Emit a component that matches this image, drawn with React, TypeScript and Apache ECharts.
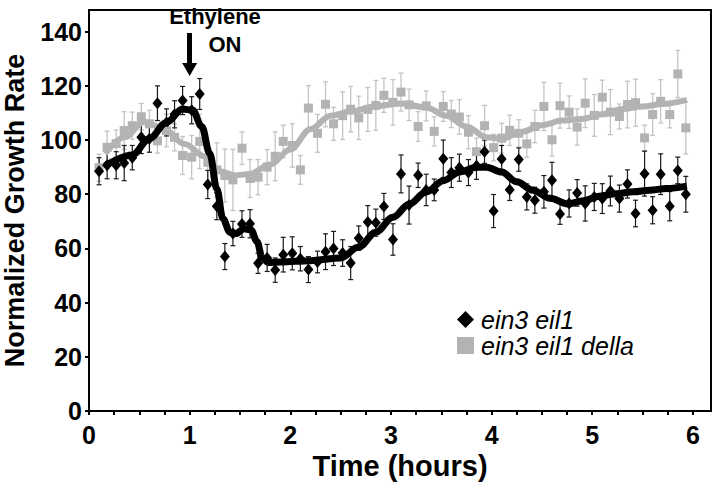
import React, { useEffect, useRef } from "react";
import * as echarts from "echarts";

const FONT = "'Liberation Sans', Arial, Helvetica, sans-serif";

// Sampling times (hours)
const times = [
  0.10, 0.18, 0.27, 0.35, 0.43, 0.52, 0.60, 0.68, 0.77, 0.85,
  0.93, 1.02, 1.10, 1.18, 1.27, 1.35, 1.43, 1.52, 1.60, 1.68,
  1.77, 1.85, 1.93, 2.02, 2.10, 2.18, 2.27, 2.35, 2.43, 2.52,
  2.60, 2.68, 2.77, 2.85, 2.93, 3.02, 3.10, 3.18, 3.27, 3.35,
  3.43, 3.52, 3.60, 3.68, 3.77, 3.85, 3.93, 4.02, 4.10, 4.18,
  4.27, 4.35, 4.43, 4.52, 4.60, 4.68, 4.77, 4.85, 4.93, 5.02,
  5.10, 5.18, 5.27, 5.35, 5.43, 5.52, 5.60, 5.68, 5.77, 5.85,
  5.93,
];

// ein3 eil1 (black diamonds)
const blackValues = [
  88.5, 90.7, 90.7, 91.5, 93.5, 101, 100.5, 113.6, 106.5, 109.5,
  114.6, 111, 117, 83.6, 75.6, 57, 65.5, 69, 69.1, 54.5,
  56.5, 52, 57.7, 58.2, 56.2, 52.2, 55, 58.8, 60, 58.3,
  54.6, 63.8, 69.8, 69.5, 75.5, 63.3, 87.5, 76, 87, 81.6,
  81.6, 93.1, 88, 89.8, 88, 90.5, 95.7, 73.8, 93, 81.7,
  92.8, 79, 77.8, 80.9, 85.2, 72.7, 76.6, 80.5, 76.6, 79,
  78.4, 81.2, 78.4, 83.8, 72.9, 87.6, 74.1, 87.4, 75.6, 88.8,
  80,
];
const blackErrors = [
  5, 5, 5, 6.5, 4.5, 6, 5, 6.4, 5, 5,
  5.2, 5, 5.7, 5.2, 5, 4.8, 4.5, 4.9, 5.2, 3.7,
  5, 4.5, 6.4, 6.1, 4.5, 4.8, 4, 6.6, 6.3, 4.9,
  6.1, 4.5, 6, 5, 4.8, 5.8, 7, 7, 4.5, 5.8,
  4, 6.9, 5.5, 5, 4.8, 5, 4.3, 6.1, 5, 4,
  4.3, 4.8, 4.8, 6, 6.6, 3.8, 5, 4.9, 6.5, 5,
  5.5, 5.5, 5, 5.2, 4.9, 8.3, 5, 7.5, 5.4, 4.9,
  6.6,
];

// ein3 eil1 della (grey squares)
const grayValues = [
  89.8, 97.3, 98.7, 103.5, 105.3, 108.6, 106, 99.7, 103.5, 101,
  94.3, 93.7, 99.5, 91.8, 89, 86.9, 85.3, 97, 85.8, 86.3,
  90, 94, 99.5, 98, 89, 111.8, 102.5, 113.2, 106, 109,
  111.4, 108.2, 111.3, 112.8, 116.5, 113.9, 117.7, 113, 105, 112.6,
  103.2, 112.4, 109.6, 108.5, 102.9, 95.7, 105.3, 97.2, 100.7, 103.6,
  102.5, 98.6, 105, 112.4, 100.1, 112.7, 110.3, 104.8, 113.6, 109.1,
  115.8, 110.3, 108.7, 113.1, 113.8, 100.8, 109.4, 114.3, 109.4, 124.4,
  104.5,
];
const grayErrors = [
  5, 6, 5, 7, 5, 4.9, 5, 4.5, 6, 5,
  7, 8, 10, 7, 10, 9.8, 11.3, 6, 7, 6.5,
  6.5, 9, 6, 8, 5.3, 8.3, 7, 8.3, 6.1, 8.8,
  8.4, 8, 8.1, 9.2, 6.3, 8.4, 7, 5.8, 5.5, 5.5,
  5.4, 5.5, 5, 6.4, 6.1, 5, 7.5, 4.9, 5.5, 5.6,
  5, 5, 6, 8.9, 6, 8.3, 6, 6.7, 9, 7.7,
  6.3, 8.3, 4.6, 8.6, 8.7, 4.7, 7.7, 8, 4.9, 8.7,
  9.6,
];

// Fitted curves
const blackFitX = [
  0.16, 0.43, 0.6, 0.77, 0.93, 1.03, 1.12, 1.2, 1.27, 1.33,
  1.4, 1.46, 1.54, 1.61, 1.67, 1.72, 1.78, 1.9, 2.2, 2.5,
  2.68, 2.85, 3.02, 3.18, 3.35, 3.52, 3.68, 3.85, 3.95, 4.1,
  4.25, 4.41, 4.58, 4.76, 4.91, 5.07, 5.24, 5.41, 5.57, 5.74,
  5.94,
];
const blackFitY = [
  90.5, 94.5, 100.5, 106.5, 111.5, 111, 105, 95, 82, 71,
  66, 65.5, 67.3, 66.8, 62.5, 56.5, 54.8, 55, 55.5, 56.5,
  60.5, 66, 71.5, 76.3, 80.8, 85, 88.2, 90, 90, 88.2,
  84.6, 81.5, 78.5, 76.4, 77.6, 79.3, 80.2, 80.9, 81.5, 82.1,
  83,
];
const grayFitX = [
  0.16, 0.35, 0.55, 0.75, 0.95, 1.15, 1.3, 1.45, 1.6, 1.8,
  2.0, 2.2, 2.4, 2.6, 2.85, 3.1, 3.35, 3.55, 3.75, 3.95,
  4.1, 4.3, 4.5, 4.7, 4.9, 5.1, 5.3, 5.5, 5.7, 5.94,
];
const grayFitY = [
  95, 101, 106.8, 104, 98.5, 94, 88.5, 87, 87.5, 91,
  96.5, 104, 109, 110.5, 112.5, 113.5, 112, 109, 105, 101,
  100.5, 103, 105.5, 107.2, 107.8, 109.5, 111.5, 112.4, 113.3, 114.8,
];

// Ethylene arrow (time, top value, bottom value)
const arrowTime = 1.0;
const arrowTop = 139.5;
const arrowBottom = 126;

const BLACK = "#000000";
const GRAY = "#b3b3b3";
const GRAY_ERR = "#c4c4c4";

function errorSeries(name: string, vals: number[], errs: number[], color: string, width: number) {
  return {
    name,
    type: "custom",
    silent: true,
    renderItem: (_params: any, api: any) => {
      const x = api.value(0);
      const y = api.value(1);
      const e = api.value(2);
      const top = api.coord([x, y + e]);
      const bot = api.coord([x, y - e]);
      const cw = 2.5;
      const st = { stroke: color, lineWidth: width };
      return {
        type: "group",
        children: [
          { type: "line", shape: { x1: top[0], y1: top[1], x2: bot[0], y2: bot[1] }, style: st },
          { type: "line", shape: { x1: top[0] - cw, y1: top[1], x2: top[0] + cw, y2: top[1] }, style: st },
          { type: "line", shape: { x1: bot[0] - cw, y1: bot[1], x2: bot[0] + cw, y2: bot[1] }, style: st },
        ],
      };
    },
    encode: { x: 0, y: 1 },
    data: times.map((t, i) => [t, vals[i], errs[i]]),
  };
}

export default function App() {
  const ref = useRef<HTMLDivElement>(null);
  useEffect(() => {
    if (!ref.current) return;
    const chart = echarts.init(ref.current, null, { renderer: "svg" });
    const boldText = { fontFamily: FONT, fontWeight: "bold", color: "#000" };
    const option: any = {
      animation: false,
      backgroundColor: "#ffffff",
      grid: {
        left: 89,
        right: 6,
        top: 10,
        bottom: 71,
        show: true,
        borderColor: "#000",
        borderWidth: 2,
        backgroundColor: "transparent",
        containLabel: false,
        outerBoundsMode: "none",
      },
      xAxis: {
        type: "value",
        min: 0,
        max: 6.18,
        interval: 0.25,
        name: "Time (hours)",
        nameLocation: "middle",
        nameGap: 35,
        nameTextStyle: { ...boldText, fontSize: 29 },
        axisLine: { show: true, onZero: false, lineStyle: { color: "#000", width: 2 } },
        axisTick: { show: true, length: 4, lineStyle: { color: "#000", width: 2 } },
        axisLabel: {
          ...boldText,
          fontSize: 25,
          margin: 11,
          showMaxLabel: false,
          formatter: (v: number) => (Number.isInteger(v) ? String(v) : ""),
        },
        splitLine: { show: false },
      },
      yAxis: {
        type: "value",
        min: 0,
        max: 148,
        interval: 20,
        name: "Normalized Growth Rate",
        nameLocation: "middle",
        nameGap: 61,
        nameTextStyle: { ...boldText, fontSize: 27 },
        axisLine: { show: true, onZero: false, lineStyle: { color: "#000", width: 2 } },
        axisTick: { show: true, length: 4, lineStyle: { color: "#000", width: 2 } },
        axisLabel: {
          ...boldText,
          fontSize: 25,
          margin: 7,
          showMaxLabel: false,
          formatter: (v: number) => (v % 20 === 0 ? String(v) : ""),
        },
        splitLine: { show: false },
      },
      legend: {
        show: true,
        orient: "vertical",
        left: 452,
        top: 302,
        itemWidth: 17,
        itemHeight: 17,
        itemGap: 1,
        selectedMode: false,
        textStyle: {
          fontFamily: FONT,
          fontStyle: "italic",
          fontSize: 25,
          lineHeight: 24,
          color: "#000",
          padding: [0, 0, 0, 2],
        },
        data: [
          { name: "ein3 eil1", icon: "diamond" },
          { name: "ein3 eil1 della", icon: "rect" },
        ],
      },
      graphic: [
        {
          type: "text",
          x: 215,
          y: 16,
          style: {
            text: "Ethylene",
            font: `bold 22px ${FONT}`,
            fill: "#000",
            align: "center",
            verticalAlign: "middle",
            textAlign: "center",
            textVerticalAlign: "middle",
          },
        },
        {
          type: "text",
          x: 225,
          y: 44,
          style: {
            text: "ON",
            font: `bold 22px ${FONT}`,
            fill: "#000",
            align: "center",
            verticalAlign: "middle",
            textAlign: "center",
            textVerticalAlign: "middle",
          },
        },
      ],
      series: [
        errorSeries("grayErr", grayValues, grayErrors, GRAY_ERR, 1.3),
        {
          name: "ein3 eil1 della",
          type: "scatter",
          symbol: "rect",
          symbolSize: 9,
          itemStyle: { color: GRAY, opacity: 1 },
          data: times.map((t, i) => [t, grayValues[i]]),
        },
        {
          name: "grayFit",
          type: "line",
          smooth: 0.35,
          smoothMonotone: "x",
          showSymbol: false,
          silent: true,
          lineStyle: { color: GRAY, width: 6 },
          itemStyle: { color: GRAY },
          data: grayFitX.map((x, i) => [x, grayFitY[i]]),
        },
        errorSeries("blackErr", blackValues, blackErrors, "#1a1a1a", 1.2),
        {
          name: "ein3 eil1",
          type: "scatter",
          symbol: "diamond",
          symbolSize: [10, 12],
          itemStyle: { color: BLACK, opacity: 1 },
          data: times.map((t, i) => [t, blackValues[i]]),
        },
        {
          name: "blackFit",
          type: "line",
          smooth: 0.35,
          smoothMonotone: "x",
          showSymbol: false,
          silent: true,
          lineStyle: { color: BLACK, width: 7 },
          itemStyle: { color: BLACK },
          data: blackFitX.map((x, i) => [x, blackFitY[i]]),
          markLine: {
            silent: true,
            symbol: ["none", "triangle"],
            symbolSize: [15, 13],
            lineStyle: { color: "#000", width: 5, type: "solid" },
            itemStyle: { color: "#000" },
            label: { show: false },
            emphasis: { disabled: true },
            data: [[{ coord: [arrowTime, arrowTop] }, { coord: [arrowTime, arrowBottom] }]],
          },
        },
      ],
    };
    chart.setOption(option);
    return () => chart.dispose();
  }, []);
  return <div ref={ref} style={{ width: 717, height: 482, position: "absolute", left: 0, top: 0, background: "#fff" }} />;
}
